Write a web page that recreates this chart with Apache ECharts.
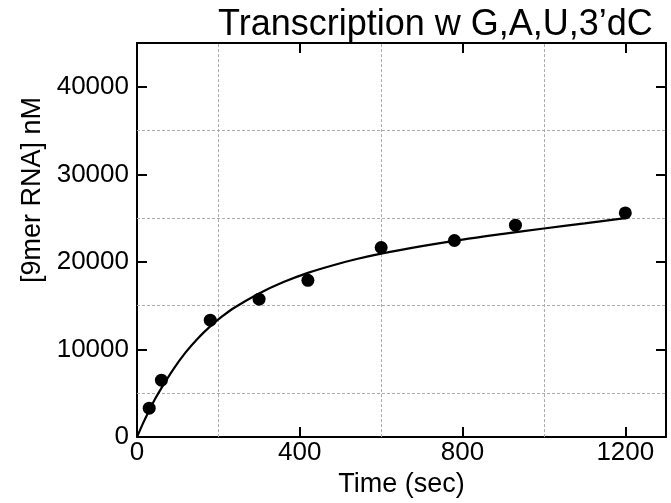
<!DOCTYPE html>
<html>
<head>
<meta charset="utf-8">
<script src="https://cdn.jsdelivr.net/npm/echarts@6/dist/echarts.min.js"></script>
<style>html,body{margin:0;padding:0;background:#fff}#c{width:671px;height:503px}</style>
</head>
<body>
<div id="c"></div>
<script>
// measured data points
var timeSec = [30, 60, 180, 300, 420, 600, 780, 930, 1200];
var rnaNM = [3300, 6500, 13350, 15750, 17900, 21650, 22450, 24200, 25600];
// fitted curve
var curveT = [0, 15, 30, 45, 60, 90, 120, 150, 180, 210, 240, 300, 360, 420, 480, 540, 600, 700, 800, 900, 1000, 1100, 1200];
var curveY = [0, 1600, 3050, 4400, 5600, 7800, 9700, 11300, 12650, 13800, 14800, 16400, 17700, 18750, 19600, 20330, 20950, 21800, 22550, 23200, 23820, 24400, 25000];
// axis ticks and grid positions
var xTicks = [0, 400, 800, 1200];
var yTicks = [0, 10000, 20000, 30000, 40000];
var xGrid = [200, 600, 1000];
var yGrid = [5000, 15000, 25000, 35000];

var FONT = '"Liberation Sans", Arial, Helvetica, sans-serif';
var chart = echarts.init(document.getElementById('c'), null, {renderer: 'canvas'});
var axisCommon = {
  axisLine: {show: true, onZero: false, lineStyle: {color: '#000', width: 2}},
  axisTick: {show: true, inside: true, length: 10, lineStyle: {color: '#000', width: 2}},
  splitLine: {show: false}
};
function pairs(a, b) { return a.map(function (v, i) { return [v, b[i]]; }); }
function plain(v) { return String(v); }
var gridLineStyle = {color: '#aaa', width: 1, type: [3, 2]};
var markData = xGrid.map(function (v) { return {xAxis: v}; }).concat(yGrid.map(function (v) { return {yAxis: v}; }));

chart.setOption({
  animation: false,
  backgroundColor: '#fff',
  textStyle: {fontFamily: FONT, color: '#000'},
  title: {
    text: 'Transcription w G,A,U,3\u2019dC',
    left: 218, top: 7, padding: 0,
    textStyle: {fontFamily: FONT, fontSize: 36, fontWeight: 'normal', color: '#000'}
  },
  grid: {left: 137, right: 5, top: 43, bottom: 62, containLabel: false},
  xAxis: [
    Object.assign({}, axisCommon, {
      type: 'value', min: 0, max: 1300, interval: 400, position: 'bottom',
      name: 'Time (sec)', nameLocation: 'middle', nameGap: 29,
      nameTextStyle: {fontFamily: FONT, fontSize: 27, color: '#000'},
      axisLabel: {show: true, fontFamily: FONT, fontSize: 26, color: '#000', margin: 3,
        showMaxLabel: false, formatter: plain}
    }),
    Object.assign({}, axisCommon, {
      type: 'value', min: 0, max: 1300, interval: 400, position: 'top',
      axisLabel: {show: false}
    })
  ],
  yAxis: [
    Object.assign({}, axisCommon, {
      type: 'value', min: 0, max: 45000, interval: 10000, position: 'left',
      name: '[9mer RNA] nM', nameLocation: 'middle', nameGap: 90,
      nameTextStyle: {fontFamily: FONT, fontSize: 27, color: '#000', padding: [0, 0, 0, 100]},
      axisLabel: {show: true, fontFamily: FONT, fontSize: 26, color: '#000', margin: 8,
        showMaxLabel: false, formatter: plain}
    }),
    Object.assign({}, axisCommon, {
      type: 'value', min: 0, max: 45000, interval: 10000, position: 'right',
      axisLabel: {show: false}
    })
  ],
  series: [
    {
      type: 'line', xAxisIndex: 0, yAxisIndex: 0,
      data: pairs(curveT, curveY), smooth: 0.3, showSymbol: false, symbol: 'none',
      lineStyle: {color: '#000', width: 2.2}, z: 3,
      markLine: {silent: true, symbol: 'none', label: {show: false},
        lineStyle: gridLineStyle, data: markData, z: 1}
    },
    {
      type: 'scatter', xAxisIndex: 0, yAxisIndex: 0,
      data: pairs(timeSec, rnaNM), symbol: 'circle', symbolSize: 13,
      itemStyle: {color: '#000', opacity: 1}, z: 4
    }
  ]
});
</script>
</body>
</html>
